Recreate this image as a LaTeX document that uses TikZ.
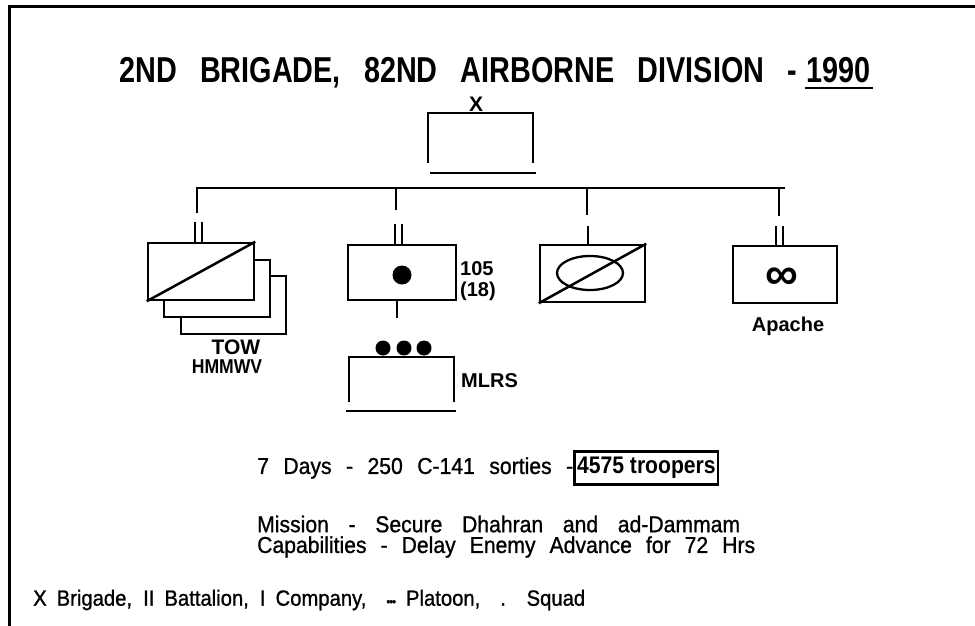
\documentclass[tikz,border=0pt]{standalone}
\usepackage{fontspec}
\setmainfont{Liberation Sans}
\newfontfamily\narfont[FakeStretch=0.88]{Liberation Sans}
\newfontfamily\ttlfont[FakeStretch=0.8]{Liberation Sans}
\newfontfamily\medfont[FakeStretch=0.92,FakeBold=1]{Liberation Sans}
\newcommand\setfs[1]{\fontsize{#1}{#1}\selectfont}
\begin{document}
\begin{tikzpicture}[x=1pt,y=-1pt,
  ln/.style={line width=2.5pt},
  unitbox/.style={draw, line width=2.5pt, fill=white, inner sep=0pt},
  lbl/.style={inner sep=0pt, font=\setfs{20}\bfseries},
  ttl/.style={inner sep=0pt, anchor=base west, font=\ttlfont\setfs{36}\bfseries},
  txt/.style={inner sep=0pt, anchor=west, font=\medfont\setfs{23}}]
\useasboundingbox (0,0) rectangle (975,626);
% frame
\coordinate (f1) at (9,626); \coordinate (f2) at (9,7); \coordinate (f3) at (975,7);
\draw[line width=3pt] (f1) -- (f2) -- (f3);
% title
\node[ttl] (title) at (119,82)
  {\makebox[678pt][s]{2ND BRIGADE, 82ND AIRBORNE DIVISION -}};
\node[ttl, anchor=base east] (year) at (871,82) {1990};
\draw[line width=2pt] ([xshift=-2pt,yshift=-6pt]year.base west) -- ([xshift=2pt,yshift=-6pt]year.base east);
% brigade
\node[lbl, font=\setfs{21}\bfseries] (bx) at (476,104) {X};
\coordinate (bg1) at (428,163); \coordinate (bg2) at (428,113);
\coordinate (bg3) at (533,113); \coordinate (bg4) at (533,163);
\draw[ln] (bg1) -- (bg2) -- (bg3) -- (bg4);
\coordinate (bl1) at (430,173); \coordinate (bl2) at (536,173);
\draw[ln] (bl1) -- (bl2);
% bus
\coordinate (bus1) at (196,188); \coordinate (bus2) at (785,188);
\draw[line width=2.3pt] (bus1) -- (bus2);
% TOW battalion
\node[unitbox, minimum width=105pt, minimum height=58pt] (tow3) at (233.5,305) {};
\node[unitbox, minimum width=106pt, minimum height=57pt] (tow2) at (217,288.5) {};
\node[unitbox, minimum width=106pt, minimum height=57pt] (tow) at (201,271.5) {};
\draw[ln] (tow.south west) -- (tow.north east);
\node[lbl, anchor=base, font=\setfs{21}\bfseries] (towl) at (236,354) {TOW};
\node[lbl, anchor=base, font=\narfont\setfs{20}\bfseries] (hmv) at (227,373) {HMMWV};
% artillery battalion
\node[unitbox, minimum width=108pt, minimum height=55pt] (art) at (402,272.5) {};
\fill (art.center) ++(0,2.5) circle (9.5);
\node[lbl, anchor=west, align=left] (artl) at (460,281) {105\\[1pt](18)};
% cavalry company
\node[unitbox, minimum width=105pt, minimum height=57pt] (cav) at (592.5,273.5) {};
\draw[line width=2.3pt] (590,273) ellipse (33 and 17);
\draw[ln] (cav.south west) -- (cav.north east);
% aviation battalion
\node[unitbox, minimum width=104pt, minimum height=57pt] (avn) at (785,274.5) {};
\node[inner sep=0pt, font=\setfs{46}\bfseries] (inf) at (782,279) {∞};
\node[lbl] (apl) at (788,326) {Apache};
% connectors from bus
\coordinate (t1a) at (197,188); \coordinate (t1b) at (197,213);
\coordinate (t2a) at (396,188); \coordinate (t2b) at (396,210);
\coordinate (t3a) at (587,188); \coordinate (t3b) at (587,215);
\coordinate (t4a) at (779,188); \coordinate (t4b) at (779,216);
\draw[ln] (t1a) -- (t1b); \draw[ln] (t2a) -- (t2b);
\draw[ln] (t3a) -- (t3b); \draw[ln] (t4a) -- (t4b);
% echelon marks
\draw[line width=2.3pt] ([xshift=-6pt]tow.north) -- ++(0,-20);
\draw[line width=2.3pt] ([xshift=1pt]tow.north) -- ++(0,-20);
\draw[line width=2.3pt] ([xshift=-7pt]art.north) -- ++(0,-20);
\draw[line width=2.3pt] ([xshift=0pt]art.north) -- ++(0,-20);
\draw[line width=2.5pt] ([xshift=-4.5pt]cav.north) -- ++(0,-18);
\draw[line width=2.3pt] ([xshift=-9pt]avn.north) -- ++(0,-19);
\draw[line width=2.3pt] ([xshift=-2pt]avn.north) -- ++(0,-19);
% MLRS platoon
\coordinate (pl) at (397,318);
\draw[ln] ([xshift=-5pt]art.south) -- (pl);
\fill (383,348) circle (7.5); \fill (404,348) circle (7.5); \fill (424,348) circle (7.5);
\coordinate (m1) at (349,402); \coordinate (m2) at (349,357);
\coordinate (m3) at (454,357); \coordinate (m4) at (454,402);
\draw[ln] (m1) -- (m2) -- (m3) -- (m4);
\coordinate (ml1) at (346,411); \coordinate (ml2) at (456,411);
\draw[ln] (ml1) -- (ml2);
\node[lbl, anchor=west] (mlrs) at (461,381) {MLRS};
% text lines
\node[txt] (l1) at (257,468) {\makebox[316pt][s]{7 Days - 250 C-141 sorties -}};
\node[draw, line width=2.5pt, anchor=west, inner sep=2.5pt, minimum height=33pt, font=\narfont\setfs{24}\bfseries] (trp) at (l1.east) {4575 troopers};
\node[txt] (l2) at (257,524) {\makebox[483pt][s]{Mission - Secure Dhahran and ad-Dammam}};
\node[txt] (l3) at (257,547) {\makebox[498pt][s]{Capabilities - Delay Enemy Advance for 72 Hrs}};
% footer
\node[txt, font=\medfont\setfs{22}] (foot) at (33,600) {\makebox[552pt][s]{X Brigade, II Battalion, I Company,\ \ {\setfs{12}•\kern-1pt•\kern-1pt•} Platoon,\ \ . Squad}};
\end{tikzpicture}
\end{document}
